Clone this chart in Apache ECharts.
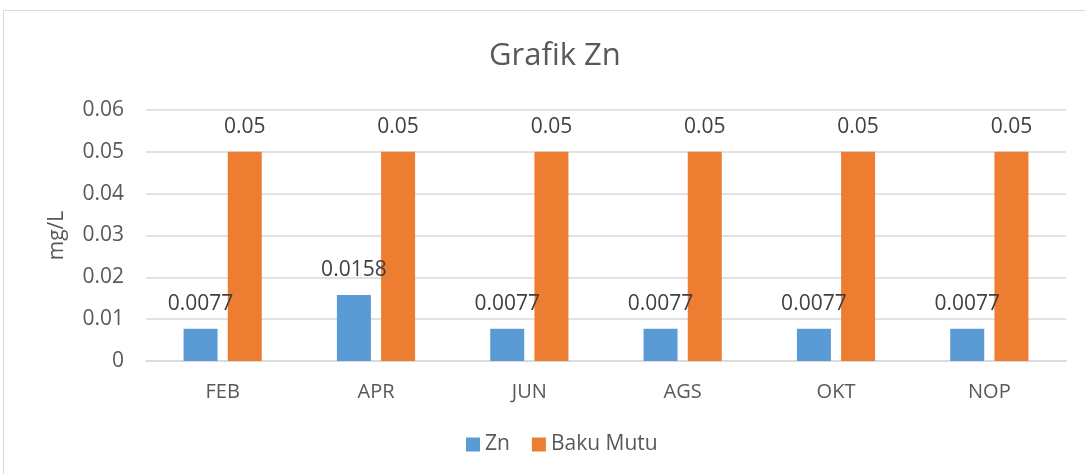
<!DOCTYPE html>
<html>
<head>
<meta charset="utf-8">
<script src="https://cdn.jsdelivr.net/npm/echarts@6/dist/echarts.min.js"></script>
<style>
  html, body { margin: 0; padding: 0; background: #fff; }
  #chart { width: 1085px; height: 474px; }
</style>
</head>
<body>
<div id="chart"></div>
<script>
// data
var months = ['FEB', 'APR', 'JUN', 'AGS', 'OKT', 'NOP'];
var znValues = [0.0077, 0.0158, 0.0077, 0.0077, 0.0077, 0.0077];
var bakuMutu = [0.05, 0.05, 0.05, 0.05, 0.05, 0.05];
var yTicks = [0, 0.01, 0.02, 0.03, 0.04, 0.05, 0.06];

var textColor = '#595959';
var font = 'Open Sans';

var myChart = echarts.init(document.getElementById('chart'));
var option = {
  animation: false,
  textStyle: { fontFamily: font, color: textColor },
  // chart area frame
  graphic: [{
    type: 'rect',
    shape: { x: 3.5, y: 10.5, width: 1200, height: 600 },
    style: { fill: 'none', stroke: '#d9d9d9', lineWidth: 1 },
    silent: true
  }],
  title: {
    text: 'Grafik Zn',
    left: 484,
    top: 36,
    textStyle: { fontFamily: font, fontSize: 31, fontWeight: 'normal', color: textColor }
  },
  legend: {
    bottom: 14,
    left: 461,
    itemWidth: 14,
    itemHeight: 14,
    itemGap: 22,
    icon: 'rect',
    textStyle: { fontFamily: font, fontSize: 21, color: textColor },
    data: ['Zn', 'Baku Mutu']
  },
  grid: { left: 146, right: 19, top: 110, bottom: 113, containLabel: false },
  xAxis: {
    type: 'category',
    data: months,
    axisLine: { lineStyle: { color: '#d9d9d9', width: 1.5 } },
    axisTick: { show: false },
    axisLabel: { margin: 21, fontSize: 20, color: textColor, fontFamily: font }
  },
  yAxis: {
    type: 'value',
    min: yTicks[0],
    max: yTicks[yTicks.length - 1],
    interval: 0.01,
    name: 'mg/L',
    nameLocation: 'middle',
    nameGap: 78,
    nameTextStyle: { fontSize: 21, color: textColor, fontFamily: font },
    axisLine: { show: false },
    axisTick: { show: false },
    splitLine: { lineStyle: { color: '#d9d9d9', width: 1.5 } },
    axisLabel: {
      margin: 22,
      fontSize: 21,
      color: textColor,
      fontFamily: font,
      formatter: function (v) { return String(Math.round(v * 100) / 100); }
    }
  },
  series: [
    {
      name: 'Zn',
      type: 'bar',
      data: znValues,
      barWidth: 34,
      barGap: '30%',
      itemStyle: { color: '#5b9bd5' },
      label: { show: true, position: 'top', distance: 14, fontSize: 21, color: '#404040', fontFamily: font }
    },
    {
      name: 'Baku Mutu',
      type: 'bar',
      data: bakuMutu,
      barWidth: 34,
      barGap: '30%',
      itemStyle: { color: '#ed7d31' },
      label: { show: true, position: 'top', distance: 14, fontSize: 21, color: '#404040', fontFamily: font }
    }
  ]
};
myChart.setOption(option);
</script>
</body>
</html>
